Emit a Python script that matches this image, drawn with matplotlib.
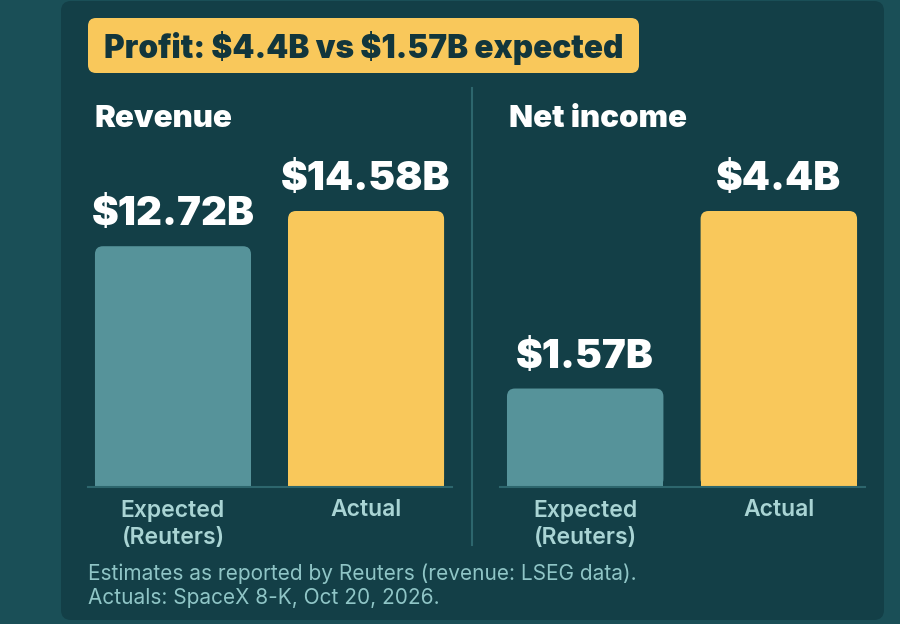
import matplotlib.pyplot as plt
from matplotlib.patches import FancyBboxPatch

# data
categories = ["Expected\n(Reuters)", "Actual"]
revenue = [12.72, 14.58]
net_income = [1.57, 4.4]
revenue_labels = [r"\$12.72B", r"\$14.58B"]
income_labels = [r"\$1.57B", r"\$4.4B"]
title = r"Profit: \$4.4B vs \$1.57B expected"
footer = ("Estimates as reported by Reuters (revenue: LSEG data).\n"
          "Actuals: SpaceX 8-K, Oct 20, 2026.")

OUTER = "#1a4f57"
CARD = "#133f47"
TEAL = "#56939a"
YELLOW = "#f9c85b"
DARK = "#12363c"
TICK = "#a9d4d4"
FOOT = "#8fc5c6"
LINE = "#2d666d"

plt.rcParams["font.family"] = ["Inter", "DejaVu Sans"]

W, H = 900, 624
fig = plt.figure(figsize=(9, 6.24), dpi=100)
fig.patch.set_facecolor(OUTER)

# background axes in pixel units (y down)
bg = fig.add_axes([0, 0, 1, 1])
bg.set_xlim(0, W)
bg.set_ylim(H, 0)
bg.axis("off")
bg.add_patch(FancyBboxPatch((61, 1), 823, 619, boxstyle="round,pad=0,rounding_size=10",
                            fc=CARD, ec="none"))
bg.add_patch(FancyBboxPatch((88, 18), 551, 55, boxstyle="round,pad=0,rounding_size=8",
                            fc=YELLOW, ec="none"))
bg.text(104, 58, title, fontsize=22.7, fontweight="black", color=DARK, va="baseline", ha="left")
bg.plot([472, 472], [88, 545], color=LINE, lw=1.5)
bg.text(95, 127, "Revenue", fontsize=22.5, fontweight="black", color="white", va="baseline")
bg.text(509, 127, "Net income", fontsize=22.5, fontweight="black", color="white", va="baseline")
bg.text(88, 586, footer, fontsize=15, color=FOOT, va="center", linespacing=1.25)

BASE = 487
AX_H = 330
BAR_PX = 276  # pixel height of the taller bar
XL = (-0.44, 1.445)
BW = 0.808
R_PX = 8


def panel(left_px, right_px, values, labels):
    ax = fig.add_axes([left_px / W, (H - BASE) / H, (right_px - left_px) / W, AX_H / H])
    ax.set_facecolor("none")
    top = max(values) * AX_H / BAR_PX
    ax.set_xlim(*XL)
    ax.set_ylim(0, top)
    xpp = (XL[1] - XL[0]) / (right_px - left_px)
    ypp = top / AX_H
    ry = R_PX * ypp
    colors = [TEAL, YELLOW]
    for i, v in enumerate(values):
        ax.bar(i, v - ry, width=BW, color=colors[i], linewidth=0)
        ax.add_patch(FancyBboxPatch((i - BW / 2, 0), BW, v,
                                    boxstyle=f"round,pad=0,rounding_size={R_PX * xpp}",
                                    mutation_aspect=ypp / xpp, fc=colors[i], ec="none"))
        ax.annotate(labels[i], (i, v), xytext=(0, 15), textcoords="offset points",
                    ha="center", va="baseline", fontsize=29, fontweight="black", color="white")
    ax.set_xticks(range(len(categories)), categories)
    ax.tick_params(axis="x", length=0, pad=9, labelsize=16.5, labelcolor=TICK)
    for t in ax.get_xticklabels():
        t.set_fontweight("semibold")
        t.set_linespacing(1.3)
    ax.set_yticks([])
    for s in ["left", "right", "top"]:
        ax.spines[s].set_visible(False)
    ax.spines["bottom"].set_color(LINE)
    ax.spines["bottom"].set_linewidth(1.5)
    return ax


panel(88, 452, revenue, revenue_labels)
panel(500, 865, net_income, income_labels)

fig.savefig("out.png", dpi=100, facecolor=OUTER)
